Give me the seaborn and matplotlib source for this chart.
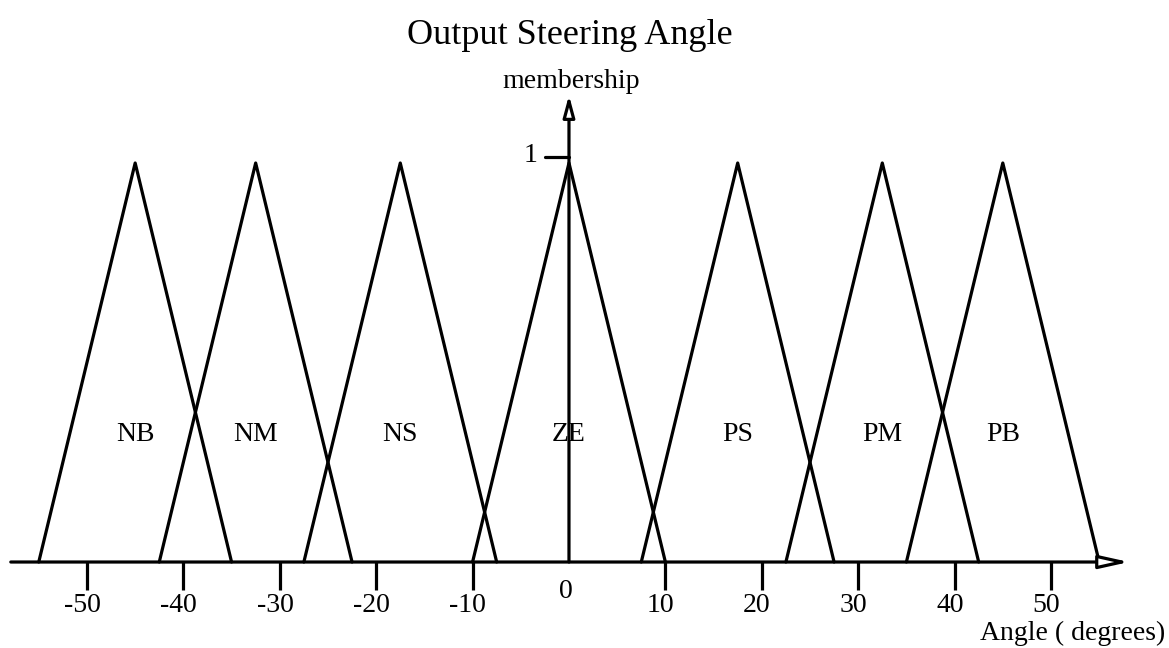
import matplotlib
matplotlib.use("Agg")
import matplotlib.pyplot as plt
import seaborn as sns
import pandas as pd

# fuzzy sets for the output steering angle: (left foot, peak, right foot)
set_names = ["NB", "NM", "NS", "ZE", "PS", "PM", "PB"]
left_feet = [-55, -42.5, -27.5, -10, 7.5, 22.5, 35]
peaks = [-45, -32.5, -17.5, 0, 17.5, 32.5, 45]
right_feet = [-35, -22.5, -7.5, 10, 27.5, 42.5, 55]
tick_values = [-50, -40, -30, -20, -10, 0, 10, 20, 30, 40, 50]

rows = []
for name, a, b, c in zip(set_names, left_feet, peaks, right_feet):
    rows += [(name, a, 0.0), (name, b, 1.0), (name, c, 0.0)]
df = pd.DataFrame(rows, columns=["set", "angle", "membership"])

sns.set_style("white")
plt.rcParams["font.family"] = ["Liberation Serif", "DejaVu Serif"]
plt.rcParams["text.color"] = "black"

fig = plt.figure(figsize=(11.69, 6.48), dpi=100)
ax = fig.add_axes([0, 0, 1, 1])
ax.set_xlim(-59.02, 62.24)
ax.set_ylim(-0.2155, 1.4085)
ax.axis("off")

sns.lineplot(data=df, x="angle", y="membership", units="set", estimator=None,
             color="black", lw=2.3, sort=False, ax=ax, legend=False)

# axes with open arrow heads
ax.annotate("", xy=(58.1, 0), xytext=(-57.9, 0),
            arrowprops=dict(arrowstyle="-|>,head_length=1.8,head_width=0.4",
                            fc="white", ec="black", lw=2.3, shrinkA=0, shrinkB=0))
ax.annotate("", xy=(0, 1.17), xytext=(0, 0),
            arrowprops=dict(arrowstyle="-|>,head_length=1.3,head_width=0.35",
                            fc="white", ec="black", lw=2.3, shrinkA=0, shrinkB=0))

# x ticks
for v in tick_values:
    if v != 0:
        ax.plot([v, v], [0, -0.07], color="black", lw=2.3, solid_capstyle="butt")
        ax.text(v - 0.5, -0.11, str(v), ha="center", va="center", fontsize=20)
    else:
        ax.text(v - 0.3, -0.075, str(v), ha="center", va="center", fontsize=20)

# membership = 1 tick
ax.plot([-2.5, 0], [1.015, 1.015], color="black", lw=2.3)
ax.text(-4.0, 1.02, "1", ha="center", va="center", fontsize=20)

for name, b in zip(set_names, peaks):
    ax.text(b, 0.32, name, ha="center", va="center", fontsize=20)

ax.text(0.1, 1.32, "Output Steering Angle", ha="center", va="center", fontsize=26)
ax.text(0.2, 1.205, "membership", ha="center", va="center", fontsize=20)
ax.text(61.8, -0.178, "Angle ( degrees)", ha="right", va="center", fontsize=20)

fig.savefig("out.png", dpi=100)
